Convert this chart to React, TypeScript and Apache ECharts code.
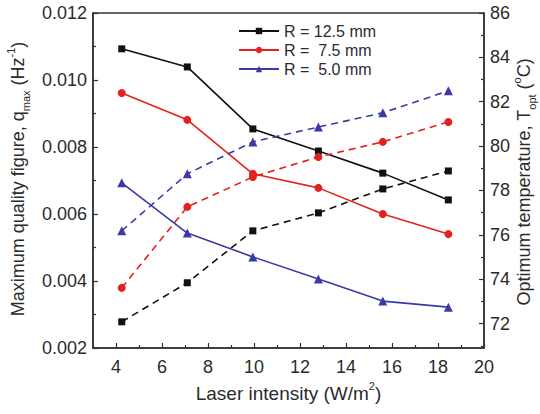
import React, { useEffect, useRef } from "react";
import * as echarts from "echarts";

const intensity = [4.25, 7.1, 9.95, 12.8, 15.6, 18.45];
const qmax125 = [0.01093, 0.01039, 0.00854, 0.00788, 0.00722, 0.00642];
const qmax75 = [0.00961, 0.00881, 0.0072, 0.00678, 0.006, 0.0054];
const qmax50 = [0.00693, 0.00543, 0.00472, 0.00406, 0.0034, 0.00322];
const topt125 = [72.08, 73.84, 76.18, 76.99, 78.07, 78.88];
const topt75 = [73.61, 77.26, 78.61, 79.51, 80.19, 81.09];
const topt50 = [76.18, 78.75, 80.19, 80.86, 81.5, 82.49];
const seriesNames = ["R = 12.5 mm", "R =  7.5 mm", "R =  5.0 mm"];
const seriesColors = ["#111111", "#e3221f", "#3a3aa3"];
const seriesSymbols = ["rect", "circle", "triangle"];
const symbolSizes = [7, 8, 9];
const xMajorTicks = [4, 6, 8, 10, 12, 14, 16, 18, 20];
const xMinorTicks = [3, 5, 7, 9, 11, 13, 15, 17, 19];
const rightMajorTicks = [72, 74, 76, 78, 80, 82, 84, 86];
const rightMinorTicks = [71, 73, 75, 77, 79, 81, 83, 85];
const leftTitle = "Maximum quality figure, q{sub|max} (Hz{sup|-1})";
const rightTitle = "Optimum temperature, T{sub|opt} ({sup|o}C)";
const xTitle = "Laser intensity (W/m{sup|2})";

const FONT = "Liberation Sans, Arial, sans-serif";
const TXT = "#2b2b2b";
const AX = "#333333";

export default function App() {
  const ref = useRef<HTMLDivElement>(null);
  useEffect(() => {
    if (!ref.current) return;
    const chart = echarts.init(ref.current, undefined, { renderer: "svg" });
    const qSets = [qmax125, qmax75, qmax50];
    const tSets = [topt125, topt75, topt50];
    const series: any[] = [];
    for (let i = 0; i < 3; i++) {
      series.push({
        name: seriesNames[i],
        type: "line",
        xAxisIndex: 0,
        yAxisIndex: 0,
        data: intensity.map((x, k) => [x, qSets[i][k]]),
        symbol: seriesSymbols[i],
        symbolSize: symbolSizes[i],
        itemStyle: { color: seriesColors[i] },
        lineStyle: { color: seriesColors[i], width: 1.6 },
      });
      series.push({
        name: seriesNames[i] + " T",
        type: "line",
        xAxisIndex: 0,
        yAxisIndex: 1,
        data: intensity.map((x, k) => [x, tSets[i][k]]),
        symbol: seriesSymbols[i],
        symbolSize: symbolSizes[i],
        itemStyle: { color: seriesColors[i] },
        lineStyle: { color: seriesColors[i], width: 1.6, type: [7, 5] },
      });
    }
    const nameRich = {
      sub: { fontSize: 11, verticalAlign: "bottom", fontFamily: FONT, fill: TXT, color: TXT, lineHeight: 26 },
      sup: { fontSize: 11, verticalAlign: "top", fontFamily: FONT, fill: TXT, color: TXT, lineHeight: 26 },
    };
    chart.setOption({
      animation: false,
      textStyle: { fontFamily: FONT },
      grid: {
        left: 93,
        top: 13,
        right: 56,
        bottom: 66,
        show: true,
        borderColor: AX,
        borderWidth: 1.5,
        backgroundColor: "transparent",
      },
      legend: {
        left: 233,
        top: 18,
        orient: "vertical",
        itemWidth: 40,
        itemHeight: 8,
        itemGap: 3,
        data: seriesNames,
        textStyle: { fontSize: 16, color: TXT, fontFamily: FONT },
      },
      graphic: [
        {
          type: "text",
          x: 18,
          y: 179,
          rotation: Math.PI / 2,
          style: {
            text: leftTitle,
            fontSize: 18,
            fontFamily: FONT,
            fill: TXT,
            lineHeight: 26,
            align: "center",
            verticalAlign: "middle",
            rich: nameRich,
          },
        },
        {
          type: "text",
          x: 524,
          y: 182,
          rotation: Math.PI / 2,
          style: {
            text: rightTitle,
            fontSize: 18,
            fontFamily: FONT,
            fill: TXT,
            lineHeight: 26,
            align: "center",
            verticalAlign: "middle",
            rich: nameRich,
          },
        },
      ],
      xAxis: [
        {
          type: "value",
          min: 3,
          max: 20,
          position: "bottom",
          name: xTitle,
          nameLocation: "middle",
          nameGap: 32,
          nameTextStyle: { fontSize: 19, color: TXT, fontFamily: FONT, lineHeight: 26, rich: nameRich },
          axisLine: { show: true, lineStyle: { color: AX, width: 1.5 } },
          axisTick: { show: true, inside: true, length: 5, customValues: xMajorTicks, lineStyle: { color: AX, width: 1.2 } },
          axisLabel: { customValues: xMajorTicks, fontSize: 18, color: TXT, margin: 10, fontFamily: FONT },
          splitLine: { show: false },
        },
        {
          type: "value",
          min: 3,
          max: 20,
          position: "bottom",
          axisLine: { show: false },
          axisTick: { show: true, inside: true, length: 3, customValues: xMinorTicks, lineStyle: { color: AX, width: 1.2 } },
          axisLabel: { show: false },
          splitLine: { show: false },
        },
      ],
      yAxis: [
        {
          type: "value",
          min: 0.002,
          max: 0.012,
          interval: 0.002,
          position: "left",
          axisLine: { show: true, lineStyle: { color: AX, width: 1.5 } },
          axisTick: { show: true, inside: true, length: 5, lineStyle: { color: AX, width: 1.2 } },
          minorTick: { show: true, splitNumber: 2, length: 3, lineStyle: { color: AX, width: 1.2 } },
          axisLabel: { fontSize: 18, color: TXT, margin: 6, fontFamily: FONT, formatter: (v: number) => v.toFixed(3) },
          splitLine: { show: false },
        },
        {
          type: "value",
          min: 70.9,
          max: 86,
          position: "right",
          axisLine: { show: true, lineStyle: { color: AX, width: 1.5 } },
          axisTick: { show: true, inside: true, length: 5, customValues: rightMajorTicks, lineStyle: { color: AX, width: 1.2 } },
          axisLabel: { customValues: rightMajorTicks, fontSize: 18, color: TXT, margin: 6, fontFamily: FONT },
          splitLine: { show: false },
        },
        {
          type: "value",
          min: 70.9,
          max: 86,
          position: "right",
          axisLine: { show: false },
          axisTick: { show: true, inside: true, length: 3, customValues: rightMinorTicks, lineStyle: { color: AX, width: 1.2 } },
          axisLabel: { show: false },
          splitLine: { show: false },
        },
      ],
      series,
    });
    return () => chart.dispose();
  }, []);
  return (
    <div
      ref={ref}
      style={{ position: "fixed", left: 0, top: 0, width: 540, height: 414, background: "#fff" }}
    />
  );
}
